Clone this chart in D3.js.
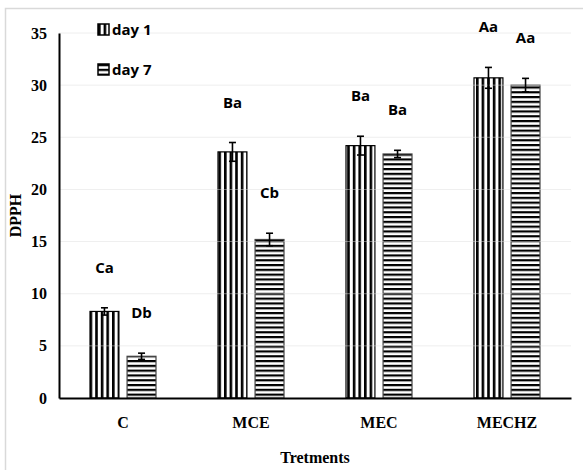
<!DOCTYPE html>
<html>
<head>
    <meta charset="utf-8">
    <title>DPPH chart</title>
    <script type="text/javascript" src="https://d3js.org/d3.v7.min.js"></script>
    <style>
      body { margin: 0; background: #fff; }
    </style>
</head>
<body>
<script type="text/javascript">

        var width = 583
        var height = 470

        // data
        var treatments = ["C", "MCE", "MEC", "MECHZ"]
        var seriesNames = ["day 1", "day 7"]
        var day1 = [8.3, 23.6, 24.2, 30.7]
        var day7 = [4.0, 15.2, 23.4, 30.0]
        var day1Err = [0.35, 0.9, 0.9, 1.0]
        var day7Err = [0.3, 0.6, 0.35, 0.65]
        var day1Letters = ["Ca", "Ba", "Ba", "Aa"]
        var day7Letters = ["Db", "Cb", "Ba", "Aa"]
        var yTicks = [0, 5, 10, 15, 20, 25, 30, 35]

        var margin = {top: 33, right: 12, bottom: 72, left: 59}

        var svg = d3.select("body").append("svg").attr("width", width).attr("height", height)

        // light frame round the chart area
        svg.append("rect")
            .attr("x", 5.5).attr("y", 8.5)
            .attr("width", 700).attr("height", 700)
            .attr("fill", "none").attr("stroke", "#d9d9d9").attr("stroke-width", 1.5)

        var defs = svg.append("defs")
        var vert = defs.append("pattern").attr("id", "vstripe")
            .attr("patternUnits", "userSpaceOnUse").attr("width", 5.6).attr("height", 10)
        vert.append("rect").attr("width", 5.6).attr("height", 10).attr("fill", "#fff")
        vert.append("rect").attr("x", 0).attr("width", 2.6).attr("height", 10).attr("fill", "#000")

        var horiz = defs.append("pattern").attr("id", "hstripe")
            .attr("patternUnits", "userSpaceOnUse").attr("width", 10).attr("height", 4.8)
        horiz.append("rect").attr("width", 10).attr("height", 4.8).attr("fill", "#fff")
        horiz.append("rect").attr("y", 0).attr("width", 10).attr("height", 2.2).attr("fill", "#000")

        var x0 = d3.scaleBand().domain(treatments)
            .range([margin.left, width - margin.right])
        var x1 = d3.scaleBand().domain(seriesNames)
            .range([x0.bandwidth() / 2 - 33, x0.bandwidth() / 2 + 33]).paddingInner(0.22)
        var y = d3.scaleLinear().domain([0, 35]).range([height - margin.bottom, margin.top])

        var rows = treatments.map(function(t, i) {
            return [
                {cat: t, s: "day 1", v: day1[i], e: day1Err[i], l: day1Letters[i], fill: "url(#vstripe)", stroke: "#000"},
                {cat: t, s: "day 7", v: day7[i], e: day7Err[i], l: day7Letters[i], fill: "url(#hstripe)", stroke: "#444"}
            ]
        })
        var bars = d3.merge(rows)

        svg.selectAll(".bar")
            .data(bars)
            .enter()
            .append("rect")
            .attr("class", "bar")
            .attr("x", function(d) { return x0(d.cat) + x1(d.s) })
            .attr("y", function(d) { return y(d.v) })
            .attr("width", x1.bandwidth())
            .attr("height", function(d) { return y(0) - y(d.v) })
            .attr("fill", function(d) { return d.fill })
            .attr("stroke", function(d) { return d.stroke })
            .attr("stroke-width", 1.2)

        // faint gridlines showing through the bars
        svg.selectAll(".grid")
            .data(yTicks.slice(1))
            .enter()
            .append("line")
            .attr("x1", margin.left).attr("x2", width - margin.right)
            .attr("y1", function(d) { return y(d) }).attr("y2", function(d) { return y(d) })
            .attr("stroke", "#ddd").attr("stroke-width", 0.8).attr("opacity", 0.6)

        // error bars
        var eb = svg.selectAll(".err").data(bars).enter().append("g").attr("class", "err")
        eb.append("line")
            .attr("x1", function(d) { return x0(d.cat) + x1(d.s) + x1.bandwidth() / 2 })
            .attr("x2", function(d) { return x0(d.cat) + x1(d.s) + x1.bandwidth() / 2 })
            .attr("y1", function(d) { return y(d.v - d.e) })
            .attr("y2", function(d) { return y(d.v + d.e) })
            .attr("stroke", "#000").attr("stroke-width", 1.6)
        eb.append("line")
            .attr("x1", function(d) { return x0(d.cat) + x1(d.s) + x1.bandwidth() / 2 - 3.5 })
            .attr("x2", function(d) { return x0(d.cat) + x1(d.s) + x1.bandwidth() / 2 + 3.5 })
            .attr("y1", function(d) { return y(d.v + d.e) })
            .attr("y2", function(d) { return y(d.v + d.e) })
            .attr("stroke", "#000").attr("stroke-width", 1.6)
        eb.append("line")
            .attr("x1", function(d) { return x0(d.cat) + x1(d.s) + x1.bandwidth() / 2 - 3.5 })
            .attr("x2", function(d) { return x0(d.cat) + x1(d.s) + x1.bandwidth() / 2 + 3.5 })
            .attr("y1", function(d) { return y(d.v - d.e) })
            .attr("y2", function(d) { return y(d.v - d.e) })
            .attr("stroke", "#000").attr("stroke-width", 1.6)

        // significance letters
        svg.selectAll(".letter")
            .data(bars)
            .enter()
            .append("text")
            .attr("class", "letter")
            .attr("x", function(d) { return x0(d.cat) + x1(d.s) + x1.bandwidth() / 2 })
            .attr("y", function(d) { return y(d.v + d.e) - 35 })
            .attr("text-anchor", "middle")
            .style("font-family", "'Liberation Sans Narrow', 'Open Sans', sans-serif")
            .style("font-weight", "bold")
            .style("font-size", "15px")
            .text(function(d) { return d.l })

        // axes
        var yAxis = svg.append("g")
            .attr("transform", "translate(" + margin.left + ",0)")
            .call(d3.axisLeft(y).tickValues(yTicks).tickSize(0).tickPadding(12))
        yAxis.select(".domain").attr("stroke", "#000").attr("stroke-width", 2)
        yAxis.selectAll("text")
            .style("font-family", "'Liberation Serif', serif")
            .style("font-weight", "bold").style("font-size", "16px").attr("fill", "#000")

        var xAxis = svg.append("g")
            .attr("transform", "translate(0," + y(0) + ")")
            .call(d3.axisBottom(x0).tickSize(0).tickPadding(19))
        xAxis.select(".domain").attr("stroke", "#000").attr("stroke-width", 2)
        xAxis.selectAll("text")
            .style("font-family", "'Liberation Serif', serif")
            .style("font-weight", "bold").style("font-size", "16px").attr("fill", "#000")

        svg.append("text")
            .attr("transform", "translate(21," + ((margin.top + y(0)) / 2) + ") rotate(-90)")
            .attr("text-anchor", "middle")
            .style("font-family", "'Liberation Serif', serif")
            .style("font-weight", "bold").style("font-size", "16px")
            .text("DPPH")

        svg.append("text")
            .attr("x", (margin.left + width - margin.right) / 2)
            .attr("y", 463)
            .attr("text-anchor", "middle")
            .style("font-family", "'Liberation Serif', serif")
            .style("font-weight", "bold").style("font-size", "16px")
            .text("Tretments")

        // legend
        var legend = svg.selectAll(".legend")
            .data([{s: seriesNames[0], fill: "url(#vstripe)"}, {s: seriesNames[1], fill: "url(#hstripe)"}])
            .enter()
            .append("g")
            .attr("class", "legend")
            .attr("transform", function(d, i) { return "translate(98," + (24 + i * 40) + ")" })
        legend.append("rect")
            .attr("width", 11).attr("height", 11)
            .attr("fill", function(d) { return d.fill })
            .attr("stroke", "#000").attr("stroke-width", 1.5)
        legend.append("text")
            .attr("x", 14).attr("y", 11)
            .style("font-family", "'Liberation Sans Narrow', 'Open Sans', sans-serif")
            .style("font-weight", "bold").style("font-size", "15px")
            .text(function(d) { return d.s })

</script>
</body>
</html>
